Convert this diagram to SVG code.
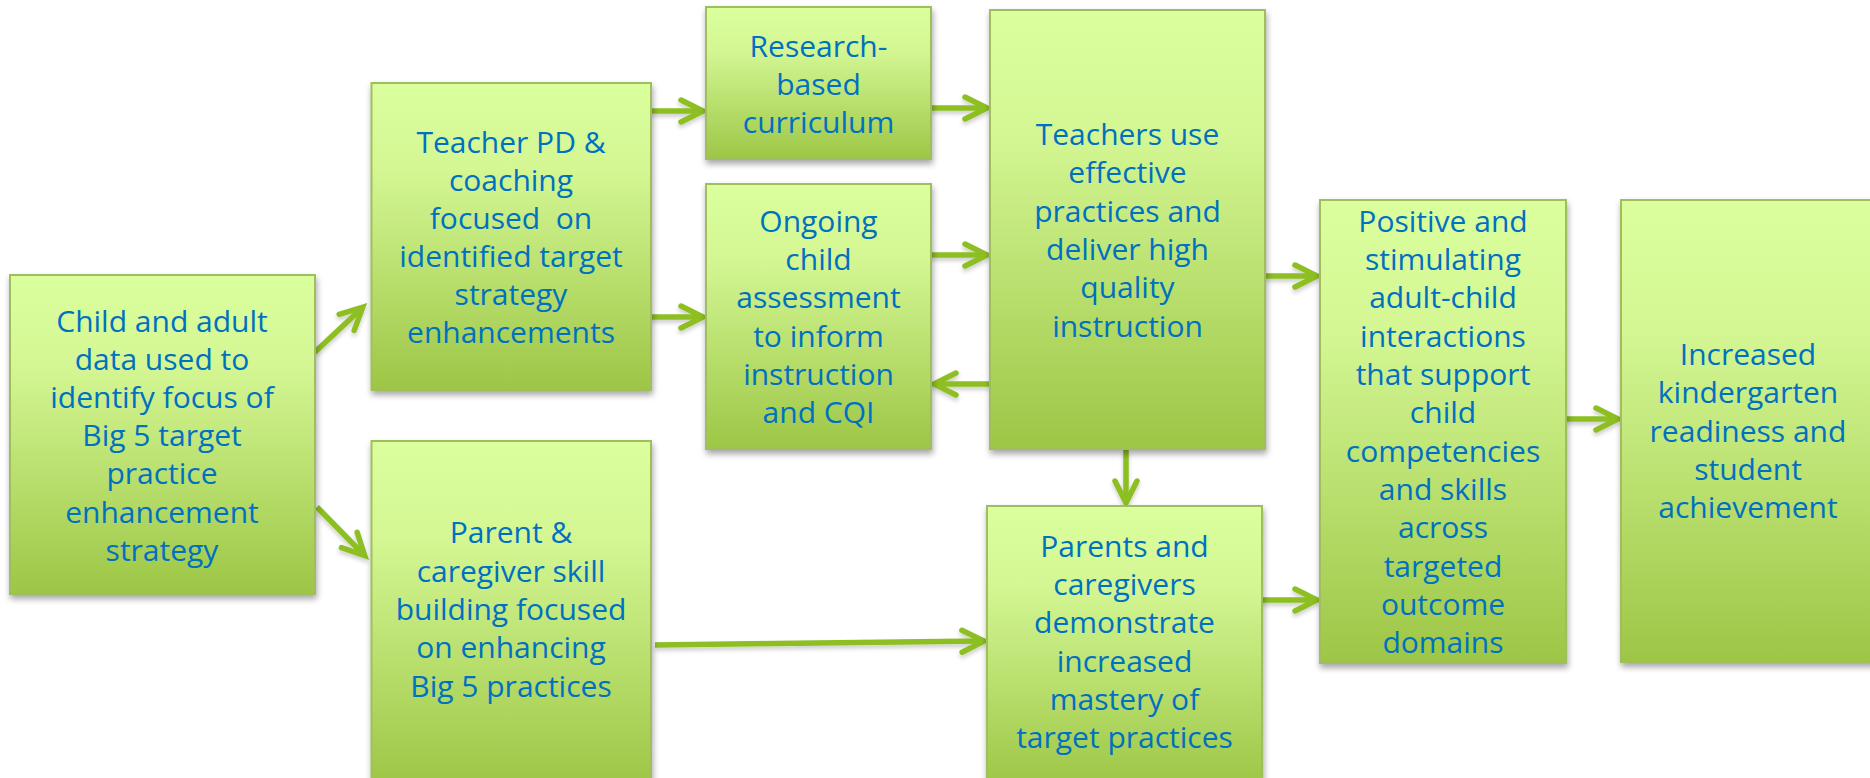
<svg xmlns="http://www.w3.org/2000/svg" width="1870" height="778" viewBox="0 0 1870 778">
<defs>
<linearGradient id="g" x1="0" y1="0" x2="0" y2="1">
<stop offset="0" stop-color="#DCFF9E"/>
<stop offset="0.28" stop-color="#D4F794"/>
<stop offset="1" stop-color="#9DC646"/>
</linearGradient>
<filter id="sh" x="-10%" y="-10%" width="125%" height="125%">
<feDropShadow dx="1" dy="4" stdDeviation="3" flood-color="#000" flood-opacity="0.35"/>
</filter>
<filter id="ash" x="-20%" y="-50%" width="140%" height="200%">
<feDropShadow dx="0" dy="3" stdDeviation="2" flood-color="#000" flood-opacity="0.2"/>
</filter>
<marker id="ah" markerUnits="userSpaceOnUse" viewBox="-28 -16 34 32" refX="0" refY="0" markerWidth="34" markerHeight="32" orient="auto" overflow="visible">
<path d="M-21,-11 L1,0 L-21,11" fill="none" stroke="#8DBE22" stroke-width="5.5" stroke-linecap="round" stroke-linejoin="miter"/>
</marker>
</defs>
<style>
.box{fill:url(#g);stroke:#9FBF5F;stroke-width:2;filter:url(#sh)}
.t{font-family:"Open Sans","Liberation Sans",sans-serif;font-size:30px;fill:#0070C0;text-anchor:middle}
.c{stroke:#8DBE22;stroke-width:5.5;fill:none;marker-end:url(#ah)}
</style>
<rect width="1870" height="778" fill="#FFFFFF"/>
<g id="connectors" filter="url(#ash)">
<line class="c" x1="315" y1="352" x2="362" y2="308"/>
<line class="c" x1="317" y1="507" x2="364" y2="555"/>
<line class="c" x1="651" y1="111" x2="702" y2="111"/>
<line class="c" x1="651" y1="317" x2="702" y2="317"/>
<line class="c" x1="931" y1="108" x2="986" y2="108"/>
<line class="c" x1="931" y1="255" x2="986" y2="255"/>
<line class="c" x1="990" y1="384" x2="935" y2="384"/>
<line class="c" x1="1265" y1="276" x2="1316" y2="276"/>
<line class="c" x1="1126" y1="449" x2="1126" y2="502"/>
<line class="c" x1="655" y1="645" x2="983" y2="641"/>
<line class="c" x1="1262" y1="600" x2="1316" y2="600"/>
<line class="c" x1="1566" y1="419" x2="1617" y2="419"/>
</g>
<g id="child">
<rect class="box" x="10" y="275" width="305" height="319"/>
<text class="t" x="162"><tspan x="162" y="332">Child and adult</tspan><tspan x="162" y="370">data used to</tspan><tspan x="162" y="408">identify focus of</tspan><tspan x="162" y="446">Big 5 target</tspan><tspan x="162" y="484">practice</tspan><tspan x="162" y="523">enhancement</tspan><tspan x="162" y="561">strategy</tspan></text>
</g>
<g id="teacherpd">
<rect class="box" x="371.5" y="83" width="279.5" height="307"/>
<text class="t"><tspan x="511" y="153">Teacher PD &amp;</tspan><tspan x="511" y="191">coaching</tspan><tspan x="511" y="229" xml:space="preserve">focused  on</tspan><tspan x="511" y="267">identified target</tspan><tspan x="511" y="305">strategy</tspan><tspan x="511" y="343">enhancements</tspan></text>
</g>
<g id="research">
<rect class="box" x="706" y="7" width="225" height="152"/>
<text class="t"><tspan x="818.5" y="57">Research-</tspan><tspan x="818.5" y="95">based</tspan><tspan x="818.5" y="133">curriculum</tspan></text>
</g>
<g id="ongoing">
<rect class="box" x="706" y="184" width="225" height="265"/>
<text class="t"><tspan x="818.5" y="232">Ongoing</tspan><tspan x="818.5" y="270">child</tspan><tspan x="818.5" y="308">assessment</tspan><tspan x="818.5" y="347">to inform</tspan><tspan x="818.5" y="385">instruction</tspan><tspan x="818.5" y="423">and CQI</tspan></text>
</g>
<g id="teachersuse">
<rect class="box" x="990" y="10" width="275" height="439"/>
<text class="t"><tspan x="1127.5" y="145">Teachers use</tspan><tspan x="1127.5" y="183">effective</tspan><tspan x="1127.5" y="222">practices and</tspan><tspan x="1127.5" y="260">deliver high</tspan><tspan x="1127.5" y="298">quality</tspan><tspan x="1127.5" y="337">instruction</tspan></text>
</g>
<g id="parent">
<rect class="box" x="371.5" y="441" width="279.5" height="345"/>
<text class="t"><tspan x="511" y="543">Parent &amp;</tspan><tspan x="511" y="582">caregiver skill</tspan><tspan x="511" y="620">building focused</tspan><tspan x="511" y="658">on enhancing</tspan><tspan x="511" y="697">Big 5 practices</tspan></text>
</g>
<g id="parents">
<rect class="box" x="987" y="506" width="275" height="280"/>
<text class="t"><tspan x="1124.5" y="557">Parents and</tspan><tspan x="1124.5" y="595">caregivers</tspan><tspan x="1124.5" y="633">demonstrate</tspan><tspan x="1124.5" y="672">increased</tspan><tspan x="1124.5" y="710">mastery of</tspan><tspan x="1124.5" y="748">target practices</tspan></text>
</g>
<g id="positive">
<rect class="box" x="1320" y="200" width="246" height="463"/>
<text class="t"><tspan x="1443" y="232">Positive and</tspan><tspan x="1443" y="270">stimulating</tspan><tspan x="1443" y="308">adult-child</tspan><tspan x="1443" y="347">interactions</tspan><tspan x="1443" y="385">that support</tspan><tspan x="1443" y="423">child</tspan><tspan x="1443" y="462">competencies</tspan><tspan x="1443" y="500">and skills</tspan><tspan x="1443" y="538">across</tspan><tspan x="1443" y="577">targeted</tspan><tspan x="1443" y="615">outcome</tspan><tspan x="1443" y="653">domains</tspan></text>
</g>
<g id="increased">
<rect class="box" x="1621" y="200" width="262" height="462"/>
<text class="t"><tspan x="1748" y="365">Increased</tspan><tspan x="1748" y="403">kindergarten</tspan><tspan x="1748" y="442">readiness and</tspan><tspan x="1748" y="480">student</tspan><tspan x="1748" y="518">achievement</tspan></text>
</g>
</svg>
